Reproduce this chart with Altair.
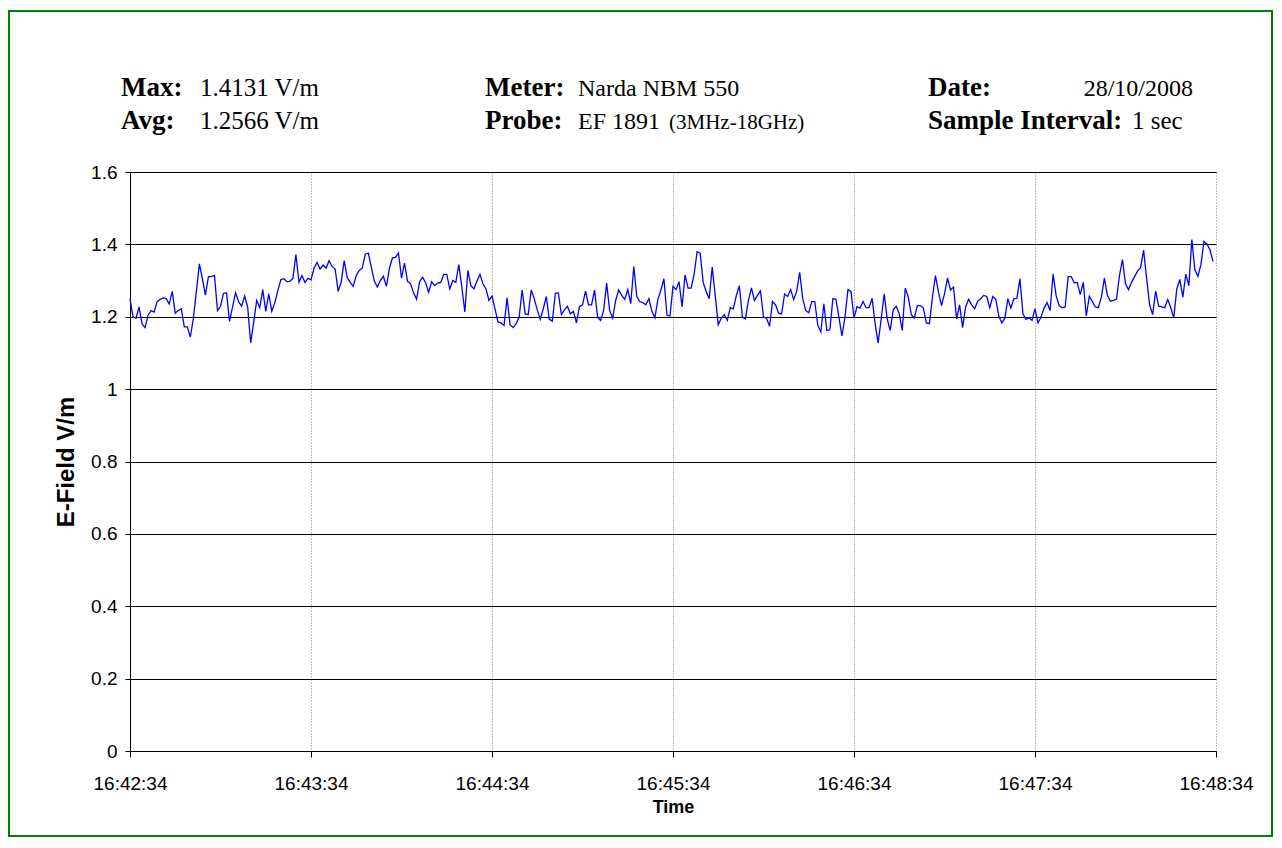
import altair as alt
import pandas as pd

# ---------------- data ----------------
tick_labels = ["16:42:34", "16:43:34", "16:44:34", "16:45:34", "16:46:34", "16:47:34", "16:48:34"]
tick_seconds = [0, 60, 120, 180, 240, 300, 360]
y_ticks = [0, 0.2, 0.4, 0.6, 0.8, 1.0, 1.2, 1.4, 1.6]

# E-field samples, one per second
efield_a = [1.25, 1.20, 1.196, 1.227, 1.18, 1.17, 1.205, 1.217, 1.213, 1.242,
            1.248, 1.252, 1.25, 1.235, 1.27, 1.21, 1.217, 1.222, 1.172, 1.172,
            1.144, 1.195, 1.27, 1.346, 1.305, 1.26, 1.311, 1.311, 1.314, 1.217,
            1.229, 1.265, 1.266, 1.187, 1.227, 1.266, 1.242, 1.229, 1.257, 1.227,
            1.128, 1.185, 1.245, 1.225, 1.275, 1.215, 1.263, 1.215, 1.239, 1.272,
            1.302, 1.305, 1.297, 1.298, 1.306, 1.372, 1.295, 1.314, 1.295, 1.306,
            1.302, 1.334, 1.35, 1.332, 1.343, 1.334, 1.355, 1.339, 1.332, 1.27,
            1.295, 1.355, 1.309]
efield_b = [1.295, 1.284, 1.314, 1.328, 1.335, 1.373, 1.376, 1.337, 1.298, 1.282,
            1.30, 1.312, 1.284, 1.334, 1.363, 1.364, 1.376, 1.307, 1.348, 1.298,
            1.291, 1.266, 1.248, 1.297, 1.309, 1.294, 1.268, 1.297, 1.286, 1.293,
            1.295, 1.317, 1.317, 1.277, 1.30, 1.295, 1.344, 1.282, 1.213, 1.328,
            1.286, 1.277, 1.298, 1.317, 1.291, 1.277, 1.245, 1.257, 1.222, 1.185,
            1.183, 1.176, 1.252, 1.178, 1.17, 1.181, 1.199, 1.274, 1.208, 1.206,
            1.274, 1.25, 1.219, 1.193, 1.222, 1.256, 1.193, 1.188, 1.265, 1.266,
            1.206, 1.219]
efield_c = [1.229, 1.208, 1.215, 1.183, 1.228, 1.233, 1.271, 1.233, 1.233, 1.274,
            1.199, 1.19, 1.217, 1.293, 1.217, 1.196, 1.245, 1.274, 1.259, 1.248,
            1.275, 1.236, 1.339, 1.256, 1.242, 1.239, 1.233, 1.25, 1.215, 1.197,
            1.248, 1.274, 1.305, 1.204, 1.202, 1.284, 1.275, 1.297, 1.227, 1.316,
            1.279, 1.279, 1.318, 1.38, 1.376, 1.295, 1.27, 1.25, 1.337, 1.259,
            1.178, 1.196, 1.206, 1.19, 1.225, 1.222, 1.259, 1.286, 1.199, 1.194,
            1.245, 1.28, 1.245, 1.259, 1.271, 1.199, 1.196, 1.174, 1.242, 1.233,
            1.21, 1.208]
efield_d = [1.263, 1.256, 1.275, 1.248, 1.27, 1.323, 1.25, 1.217, 1.211, 1.242,
            1.242, 1.176, 1.158, 1.236, 1.162, 1.164, 1.25, 1.248, 1.199, 1.147,
            1.199, 1.275, 1.27, 1.196, 1.228, 1.224, 1.242, 1.225, 1.225, 1.251,
            1.181, 1.128, 1.193, 1.263, 1.194, 1.162, 1.219, 1.229, 1.208, 1.162,
            1.279, 1.254, 1.206, 1.197, 1.231, 1.231, 1.224, 1.183, 1.181, 1.254,
            1.314, 1.268, 1.231, 1.263, 1.307, 1.274, 1.282, 1.194, 1.233, 1.17,
            1.227, 1.248, 1.233, 1.222, 1.243, 1.25, 1.259, 1.256, 1.225, 1.256,
            1.248, 1.202]
efield_e = [1.183, 1.196, 1.25, 1.224, 1.25, 1.251, 1.305, 1.208, 1.193, 1.197,
            1.19, 1.222, 1.183, 1.199, 1.224, 1.239, 1.217, 1.318, 1.259, 1.231,
            1.225, 1.227, 1.311, 1.311, 1.294, 1.295, 1.261, 1.295, 1.202, 1.257,
            1.242, 1.227, 1.225, 1.254, 1.307, 1.259, 1.243, 1.245, 1.248, 1.314,
            1.358, 1.291, 1.275, 1.295, 1.311, 1.326, 1.335, 1.384, 1.306, 1.233,
            1.206, 1.271, 1.229, 1.227, 1.225, 1.248, 1.225, 1.197, 1.277, 1.303,
            1.254, 1.318, 1.286, 1.4131, 1.33, 1.312, 1.344, 1.408, 1.401, 1.385,
            1.353]

header_labels = ["Max:", "Avg:", "Meter:", "Probe:", "Date:", "Sample Interval:"]
header_values = ["1.4131 V/m", "1.2566 V/m", "Narda NBM 550", "EF 1891", "28/10/2008", "1 sec"]
probe_range = "(3MHz-18GHz)"

# ---------------- chart ----------------
efield = efield_a + efield_b + efield_c + efield_d + efield_e
df = pd.DataFrame({"sec": list(range(len(efield))), "efield": efield})

SANS = "Liberation Sans Narrow, Liberation Sans, Arial"
SERIF = "Liberation Serif, Times New Roman"
W, H = 1086, 579

label_expr = "[" + ",".join("'%s'" % s for s in tick_labels) + "][round(datum.value / 60)]"

line = alt.Chart(df).mark_line(color="#0000FF", strokeWidth=1.3).encode(
    x=alt.X("sec:Q",
            scale=alt.Scale(domain=[0, 360], nice=False, zero=False),
            axis=alt.Axis(values=tick_seconds, labelExpr=label_expr, title="Time",
                          grid=True, gridColor="#7a7a7a", gridDash=[1, 2], gridWidth=1,
                          domainColor="black", tickColor="black", tickSize=6,
                          labelFont=SANS, labelFontSize=19, labelColor="black",
                          labelPadding=17, labelFlush=False,
                          titleFont="Liberation Sans", titleFontSize=18, titleFontWeight="bold",
                          titleColor="black", titleX=W / 2, titleY=56, titleBaseline="middle")),
    y=alt.Y("efield:Q",
            scale=alt.Scale(domain=[0, 1.6], nice=False, zero=True),
            axis=alt.Axis(values=y_ticks, format=".1~f", title="E-Field V/m",
                          grid=True, gridColor="black", gridWidth=1,
                          domainColor="black", tickColor="black", tickSize=5,
                          labelFont=SANS, labelFontSize=19, labelColor="black",
                          labelPadding=8, labelFlush=False,
                          titleFont="Liberation Sans", titleFontSize=24, titleFontWeight="bold",
                          titleColor="black", titleAngle=270, titleX=-64, titleY=H / 2,
                          titleBaseline="middle", titleAlign="center")),
)


def txt(s, x, y, size=24, bold=False, align="left"):
    return alt.Chart(pd.DataFrame({"t": [s]})).mark_text(
        align=align, baseline="alphabetic", font=SERIF, fontSize=size,
        fontWeight="bold" if bold else "normal", color="black",
    ).encode(text="t:N", x=alt.value(x), y=alt.value(y))


row1, row2 = -76, -43
B = 27
texts = [
    txt(header_labels[0], -9, row1, size=B, bold=True),
    txt(header_values[0], 70, row1, size=25),
    txt(header_labels[1], -9, row2, size=B, bold=True),
    txt(header_values[1], 70, row2, size=25),
    txt(header_labels[2], 355, row1, size=B, bold=True),
    txt(header_values[2], 448, row1),
    txt(header_labels[3], 355, row2, size=B, bold=True),
    txt(header_values[3], 448, row2),
    txt(probe_range, 539, row2, size=21),
    txt(header_labels[4], 798, row1, size=B, bold=True),
    txt(header_values[4], 1063, row1, align="right"),
    txt(header_labels[5], 798, row2, size=B, bold=True),
    txt(header_values[5], 1002, row2, size=25),
]

border = alt.Chart(pd.DataFrame({"a": [0]})).mark_rect(
    fillOpacity=0, stroke="#008000", strokeWidth=2
).encode(x=alt.value(-121), x2=alt.value(1142), y=alt.value(-161), y2=alt.value(664))

chart = alt.layer(line, border, *texts).properties(
    width=W, height=H,
    padding={"left": 122, "top": 164, "right": 58, "bottom": 87},
    autosize=alt.AutoSizeParams(type="none"),
    background="white",
).configure_view(stroke=None)

chart.save("out.html", embed_options={"renderer": "svg", "actions": False})
